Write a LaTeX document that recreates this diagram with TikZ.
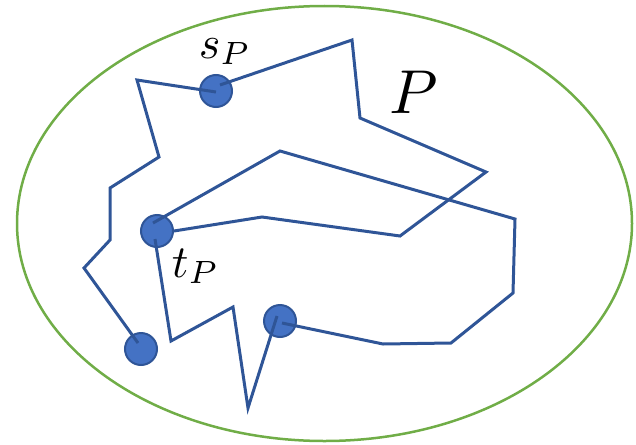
\documentclass[tikz,border=0pt]{standalone}
\usetikzlibrary{calc}
\begin{document}
\begin{tikzpicture}[x=1pt,y=-1pt,
  pathline/.style={draw=blueline,line width=3pt,line join=miter},
  dot/.style={circle,fill=dotfill,draw=blueline,line width=2pt,minimum size=32pt,inner sep=0pt},
  lbl/.style={anchor=base west,inner sep=0pt,text=black}]
\definecolor{blueline}{HTML}{2F5597}
\definecolor{dotfill}{HTML}{4472C4}
\definecolor{greenline}{HTML}{70AD47}
\useasboundingbox (0,0) rectangle (636,444);
\draw[greenline,line width=2.5pt] (324.5,223.5) ellipse [x radius=307.5, y radius=217.5];
% dots
\node[dot] (s) at (216,91) {};
\node[dot] (t) at (157,231) {};
\node[dot] (b) at (141,349) {};
\node[dot] (m) at (280,321) {};
% vertices
\coordinate (a1) at (137,80);
\coordinate (a2) at (159,157);
\coordinate (a3) at (110,188);
\coordinate (a4) at (110,240);
\coordinate (a5) at (84,268);
\coordinate (c1) at (352,40);
\coordinate (c2) at (360,118);
\coordinate (c3) at (486,172);
\coordinate (c4) at (400,236);
\coordinate (c5) at (262,217);
\coordinate (d1) at (280,151);
\coordinate (d2) at (515,219);
\coordinate (d3) at (513,293);
\coordinate (d4) at (451,343);
\coordinate (d5) at (383,344);
\coordinate (e1) at (171,341);
\coordinate (e2) at (233,307);
\coordinate (e3) at (248,408);
% paths
\draw[pathline] ($(s.center)+(0,1)$) -- (a1) -- (a2) -- (a3) -- (a4) -- (a5) -- ($(b.center)+(-3,-6)$);
\draw[pathline] ($(s.center)+(4,-6)$) -- (c1) -- (c2) -- (c3) -- (c4) -- (c5) -- (t.east);
\draw[pathline] ($(t.center)+(-4,-8)$) -- (d1) -- (d2) -- (d3) -- (d4) -- (d5) -- ($(m.center)+(2,2)$);
\draw[pathline] ($(t.center)+(-2,8)$) -- (e1) -- (e2) -- (e3) -- ($(m.center)+(-3,-5)$);
% labels
\node[lbl,scale=4.6] (ls) at (198,58) {$s_P$};
\node[lbl,scale=4.6] (lt) at (171,277) {$t_P$};
\node[lbl,scale=6.2] (lp) at (388,113) {$P$};
\end{tikzpicture}
\end{document}
